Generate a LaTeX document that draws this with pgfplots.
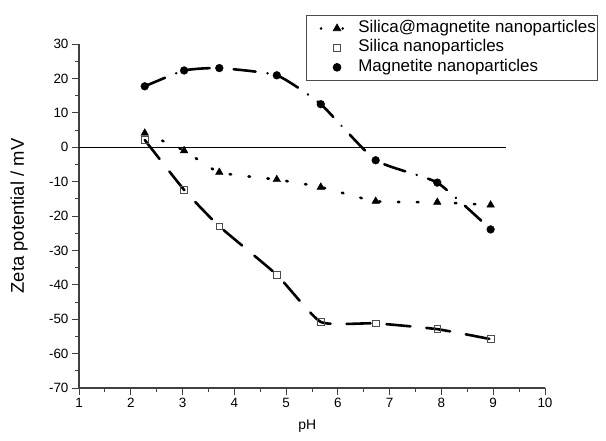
\documentclass[border=0pt]{standalone}
\usepackage{fontspec}
\setmainfont{Liberation Sans}
\usepackage{pgfplots}
\pgfplotsset{compat=1.18}

\pgfplotstableread{
x y
2.27 4.1
3.03 -1.0
3.71 -7.3
4.82 -9.4
5.67 -11.6
6.73 -15.7
7.92 -16.0
8.95 -16.8
}\sima

\pgfplotstableread{
x y
2.27 2.1
3.03 -12.4
3.71 -23.0
4.82 -37.1
5.67 -50.8
6.73 -51.2
7.92 -52.9
8.95 -55.8
}\silica

\pgfplotstableread{
x y
2.27 17.7
3.03 22.3
3.71 23.0
4.82 20.9
5.67 12.5
6.73 -3.8
7.92 -10.3
8.95 -23.9
}\magn

\begin{document}
\begin{tikzpicture}
\begin{axis}[
    scale only axis,
    width=466bp, height=344bp,
    xmin=1, xmax=10, ymin=-70, ymax=30,
    axis x line*=bottom, axis y line*=left,
    xtick={1,...,10}, ytick={-70,-60,...,30},
    minor x tick num=1, minor y tick num=1,
    tick align=outside,
    major tick length=7bp, minor tick length=3.5bp,
    tick style={black!75, line width=0.9bp},
    axis line style={black!75, line width=1.3bp},
    /pgf/number format/assume math mode=true,
    tick label style={font=\fontsize{13.5}{15}\selectfont},
    xlabel={pH}, ylabel={Zeta potential / mV},
    xlabel style={font=\fontsize{14}{16}\selectfont, at={(axis description cs:0.49,0)}, anchor=center, yshift=-38bp},
    ylabel style={font=\fontsize{18.5}{20}\selectfont, at={(axis description cs:0,0.5)}, anchor=center, yshift=60bp},
    legend style={at={(axis description cs:0.487,1.083)}, anchor=north west,
        draw=black!70, line width=0.8bp, font=\fontsize{17}{19}\selectfont,
        row sep=0pt, inner xsep=0bp, inner ysep=3bp,
        nodes={text height=12.5bp, text depth=4.5bp, inner ysep=1.2bp}},
    legend cell align=left,
    clip=false,
]
\coordinate (o) at (rel axis cs:0,0);
\addplot[black, line width=0.8bp, forget plot] coordinates {(1,0) (9.25,0)};

\addplot[black, line width=2.6bp, line cap=round, dash pattern=on 1.5bp off 17.5bp, smooth, tension=0.3, forget plot] table {\sima};
\addplot[black, line width=2.6bp, line cap=round, dash pattern=on 24bp off 16bp, smooth, tension=0.3, forget plot] table {\silica};
\addplot[black, line width=2.6bp, line cap=round, dash pattern=on 22bp off 12bp on 0.1bp off 12bp, smooth, tension=0.3, forget plot] table {\magn};

\addplot[only marks, mark=triangle*, mark size=4.4bp, black,
    legend image code/.code={
        \path[draw=none, fill=none] (0bp,0bp) -- (50bp,0bp);
        \draw[black, line width=2.6bp, line cap=round, dash pattern=on 0.1bp off 21.5bp] (14.7bp,0bp) -- (37bp,0bp);
        \draw plot[mark=triangle*, mark size=4.4bp] coordinates {(30.7bp,0bp)};}
    ] table {\sima};
\addlegendentry{Silica@magnetite nanoparticles}
\addplot[only marks, mark=square, mark size=3.3bp, black!70, mark options={fill=white, line width=0.8bp},
    legend image code/.code={
        \path[draw=none, fill=none] (0bp,0bp) -- (50bp,0bp);
        \draw plot[mark=square, mark size=3.3bp, mark options={fill=white, line width=0.8bp}] coordinates {(30.7bp,0bp)};}
    ] table {\silica};
\addlegendentry{Silica nanoparticles}
\addplot[only marks, mark=*, mark size=3.9bp, black,
    legend image code/.code={
        \path[draw=none, fill=none] (0bp,0bp) -- (50bp,0bp);
        \draw plot[mark=*, mark size=3.9bp] coordinates {(30.7bp,0bp)};}
    ] table {\magn};
\addlegendentry{Magnetite nanoparticles}
\end{axis}
\pgfresetboundingbox
\path ([xshift=-79bp,yshift=-53bp]o) rectangle ([xshift=527bp,yshift=388bp]o);
\end{tikzpicture}
\end{document}
